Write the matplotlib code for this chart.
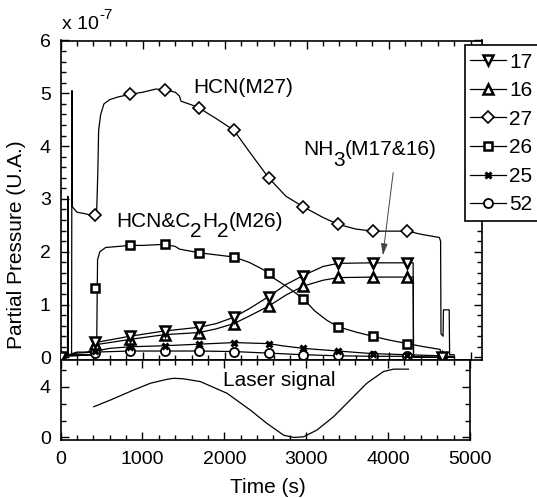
import matplotlib
matplotlib.use("Agg")
import matplotlib.pyplot as plt
from matplotlib.lines import Line2D
from matplotlib.patches import Rectangle
from matplotlib.ticker import MultipleLocator, FixedLocator
from matplotlib.transforms import offset_copy

plt.rcParams['font.family'] = ['Liberation Sans', 'DejaVu Sans']

# ---------------- data (partial pressures in units of 1e-7) ----------------
MARK_T = [0, 423, 846, 1269, 1692, 2115, 2538, 2961, 3384, 3807, 4230, 4653]

m17_t = [0, 100, 200, 300, 420, 425, 600, 846, 1269, 1692, 1900, 2115, 2300, 2538,
         2750, 2961, 3200, 3384, 3807, 4230, 4300, 4305, 4750]
m17_v = [0.02, 0.05, 0.1, 0.1, 0.12, 0.28, 0.33, 0.40, 0.50, 0.57, 0.64, 0.76, 0.92, 1.15,
         1.38, 1.55, 1.72, 1.78, 1.79, 1.79, 1.79, 0.0, 0.0]
m17_mark = [0.0, 0.30, 0.40, 0.50, 0.57, 0.76, 1.15, 1.55, 1.78, 1.79, 1.79, 0.0]

m16_t = [0, 100, 200, 300, 420, 425, 600, 846, 1269, 1692, 1900, 2115, 2300, 2538,
         2750, 2961, 3200, 3384, 3807, 4230, 4300, 4305, 4750]
m16_v = [0.02, 0.04, 0.08, 0.09, 0.1, 0.24, 0.28, 0.34, 0.43, 0.47, 0.54, 0.64, 0.78, 0.97,
         1.18, 1.35, 1.46, 1.51, 1.52, 1.52, 1.52, 0.0, 0.0]
m16_mark = [0.0, 0.25, 0.34, 0.43, 0.47, 0.64, 0.97, 1.35, 1.52, 1.52, 1.52, 0.0]

m27_t = [0, 135, 140, 145, 200, 300, 400, 440, 455, 465, 490, 530, 600, 700, 846, 1000,
         1160, 1269, 1400, 1450, 1470, 1600, 1692, 1900, 2115, 2300, 2538, 2750, 2961,
         3200, 3384, 3600, 3807, 4000, 4230, 4400, 4620, 4635, 4640, 4665, 4670, 4740,
         4745, 4800]
m27_v = [0.05, 0.05, 5.05, 2.85, 2.75, 2.72, 2.68, 2.70, 3.5, 4.3, 4.6, 4.8, 4.88, 4.93,
         4.98, 5.02, 5.08, 5.07, 5.02, 4.95, 4.85, 4.78, 4.72, 4.52, 4.30, 3.90, 3.40,
         3.05, 2.85, 2.65, 2.52, 2.43, 2.39, 2.39, 2.39, 2.33, 2.27, 2.2, 0.45, 0.4, 0.9,
         0.9, 0.05, 0.05]
m27_mark_t = [423, 846, 1269, 1692, 2115, 2538, 2961, 3384, 3807, 4230]
m27_mark = [2.70, 4.98, 5.07, 4.72, 4.30, 3.40, 2.85, 2.52, 2.39, 2.39]

m26_t = [0, 85, 90, 95, 440, 452, 480, 550, 700, 846, 1000, 1269, 1400, 1450, 1692,
         2115, 2300, 2450, 2538, 2600, 2750, 2961, 3100, 3250, 3384, 3600, 3807, 4000,
         4230, 4400, 4630, 4640, 4800]
m26_v = [0.03, 0.03, 3.05, 0.05, 0.05, 1.85, 2.0, 2.08, 2.10, 2.12, 2.12, 2.14, 2.10,
         2.05, 1.98, 1.90, 1.80, 1.68, 1.60, 1.50, 1.35, 1.11, 0.88, 0.70, 0.58, 0.48,
         0.40, 0.33, 0.26, 0.21, 0.15, 0.02, 0.02]
m26_mark_t = [423, 846, 1269, 1692, 2115, 2538, 2961, 3384, 3807, 4230]
m26_mark = [1.32, 2.12, 2.14, 1.98, 1.90, 1.60, 1.11, 0.58, 0.40, 0.26]

m25_t = [0, 420, 430, 600, 846, 1269, 1692, 2115, 2538, 2700, 2961, 3384, 3807, 4230,
         4630, 4700, 4800]
m25_v = [0.02, 0.05, 0.12, 0.17, 0.20, 0.22, 0.25, 0.28, 0.26, 0.22, 0.17, 0.12, 0.07,
         0.05, 0.03, 0.0, 0.0]
m25_mark = [0.0, 0.12, 0.20, 0.22, 0.25, 0.28, 0.25, 0.17, 0.12, 0.07, 0.05, 0.02]

m52_t = [0, 420, 430, 846, 1269, 1692, 2115, 2538, 2961, 3384, 3807, 4230, 4700, 4800]
m52_v = [0.02, 0.05, 0.10, 0.12, 0.12, 0.12, 0.11, 0.08, 0.05, 0.03, 0.02, 0.02, 0.0, 0.0]
m52_mark = [0.0, 0.08, 0.12, 0.12, 0.12, 0.11, 0.08, 0.05, 0.04, 0.02, 0.02, 0.0]

laser_t = [406, 610, 894, 1098, 1301, 1382, 1500, 1707, 2033, 2317, 2520, 2724, 2846,
           2967, 3130, 3333, 3537, 3740, 3943, 4065, 4248]
laser_v = [2.42, 2.95, 3.74, 4.27, 4.58, 4.66, 4.62, 4.40, 3.48, 2.16, 1.11, 0.18, 0.0,
           0.05, 0.58, 1.63, 2.95, 4.27, 5.19, 5.38, 5.38]

legend_labels = ['17', '16', '27', '26', '25', '52']

# ---------------- figure ----------------
W, H = 537, 498
fig = plt.figure(figsize=(W / 100, H / 100), dpi=100)

ax1 = fig.add_axes([60.5 / W, (H - 360) / H, (482 - 60.5) / W, (360 - 40.5) / H])
ax2 = fig.add_axes([60.5 / W, (H - 440) / H, (470 - 60.5) / W, 80 / H])

LW = 0.9
FS = 15       # annotation / label text
FS_TICK = 14  # tick labels

styles = {
    '17': dict(marker='v', ms=7, mew=1.8),
    '16': dict(marker='^', ms=7, mew=1.8),
    '27': dict(marker='D', ms=6, mew=1.2),
    '26': dict(marker='s', ms=6, mew=1.8),
    '25': dict(marker='x', ms=5, mew=2.2),
    '52': dict(marker='o', ms=6.5, mew=1.3),
}

series = [
    ('52', m52_t, m52_v, MARK_T, m52_mark),
    ('25', m25_t, m25_v, MARK_T, m25_mark),
    ('26', m26_t, m26_v, m26_mark_t, m26_mark),
    ('27', m27_t, m27_v, m27_mark_t, m27_mark),
    ('16', m16_t, m16_v, MARK_T, m16_mark),
    ('17', m17_t, m17_v, MARK_T, m17_mark),
]
for name, t, v, mt, mv in series:
    ax1.plot(t, v, color='black', lw=LW, zorder=2)
    ax1.plot(mt, mv, ls='none', color='black', mfc='white', zorder=3, **styles[name])

ax2.plot(laser_t, laser_v, color='black', lw=LW)

# axes styling
for ax in (ax1, ax2):
    for sp in ax.spines.values():
        sp.set_linewidth(1.2)
    ax.tick_params(which='both', direction='in', top=True, right=True, width=1.0,
                   labelsize=FS_TICK)
    ax.tick_params(which='major', length=6)
    ax.tick_params(which='minor', length=3.5)
    ax.tick_params(axis='y', pad=7)
    ax.tick_params(axis='x', pad=8)
    ax.xaxis.set_major_locator(MultipleLocator(1000))
    ax.xaxis.set_minor_locator(MultipleLocator(200))

ax1.set_xlim(0, 5140)
ax1.set_ylim(-0.05, 6)
ax1.yaxis.set_major_locator(MultipleLocator(1))
ax1.yaxis.set_minor_locator(MultipleLocator(0.2))
ax1.tick_params(axis='x', labelbottom=False)

ax2.set_xlim(0, 5000)
ax2.set_ylim(-0.2, 6.1)
ax2.yaxis.set_major_locator(FixedLocator([0, 4]))
ax2.yaxis.set_minor_locator(FixedLocator([4 / 3, 8 / 3, 16 / 3]))

# text helpers
renderer = fig.canvas.get_renderer()


def draw_pieces(ax, x, y, pieces, transform=None):
    base = transform if transform is not None else ax.transData
    dx = 0.0
    for s, dy, fs in pieces:
        tr = offset_copy(base, fig=fig, x=dx, y=dy, units='points')
        t = fig.text(x, y, s, transform=tr, fontsize=fs, ha='left', va='baseline')
        bb = t.get_window_extent(renderer)
        dx += bb.width * 72 / fig.dpi


draw_pieces(ax1, 1616, 5.0, [('HCN(M27)', 0, FS)])
draw_pieces(ax1, 677, 2.46, [('HCN&C', 0, FS), ('2', -7, FS), ('H', 0, FS),
                             ('2', -7, FS), ('(M26)', 0, FS)])
draw_pieces(ax1, 2955, 3.84, [('NH', 0, FS), ('3', -8, FS), ('(M17&16)', 0, FS)])
draw_pieces(ax2, 1982, 4.06, [('Laser signal', 0, FS)])

# scale factor label
draw_pieces(None, 62 / W, (H - 29) / H, [('x 10', 0, FS_TICK), ('-7', 7, 11)],
            transform=fig.transFigure)

ax1.annotate('', xy=(3927, 1.88), xytext=(4061, 3.55),
             arrowprops=dict(arrowstyle='-|>,head_length=0.7,head_width=0.2',
                             color='#444444', lw=0.7))

fig.text(17 / W, 1 - 245 / H, 'Partial Pressure (U.A.)', rotation=90,
         ha='center', va='center', fontsize=FS)
fig.text(267.5 / W, 1 - 487 / H, 'Time (s)', ha='center', va='center', fontsize=FS)

# legend: frame drawn as a figure rectangle, entries as a frameless legend
frame = Rectangle((465 / W, 1 - 221 / H), 100 / W, 176 / H, transform=fig.transFigure,
                  facecolor='white', edgecolor='black', lw=1.2, zorder=9)
fig.patches.append(frame)

handles = [Line2D([0], [0], color='black', lw=LW, mfc='white', **styles[n])
           for n in legend_labels]
leg = fig.legend(handles, legend_labels, loc='upper left',
                 bbox_to_anchor=(470 / W, 1 - 52.5 / H), bbox_transform=fig.transFigure,
                 frameon=False, fontsize=FS, borderpad=0,
                 labelspacing=0.46, handlelength=1.75, handletextpad=0.12,
                 borderaxespad=0)
leg.set_zorder(10)

fig.savefig('out.png', dpi=100)
